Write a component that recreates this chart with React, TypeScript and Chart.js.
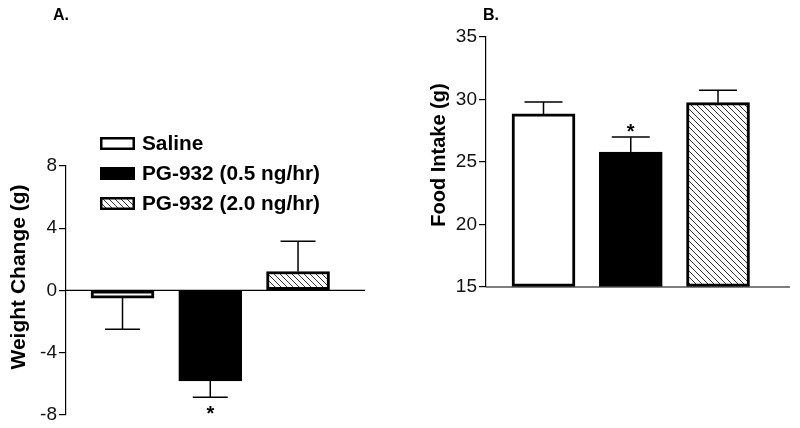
import React, { useEffect, useRef } from "react";
import { Chart, registerables } from "chart.js";

Chart.register(...registerables);

const categories = ["Saline", "PG-932 (0.5 ng/hr)", "PG-932 (2.0 ng/hr)"];
const weightChange = [-0.5, -5.84, 1.21];
const weightErr = [2.0, 1.05, 1.95];
const foodIntake = [28.85, 25.8, 29.75];
const foodErr = [0.95, 1.2, 1.0];
const weightTicks = [-8, -4, 0, 4, 8];
const foodTicks = [15, 20, 25, 30, 35];
const weightSig = [false, true, false];
const foodSig = [false, true, false];

const FONT = "'Liberation Sans', Arial, sans-serif";

function makeHatch(): CanvasPattern | string {
  const pc = document.createElement("canvas");
  pc.width = 6;
  pc.height = 6;
  const c = pc.getContext("2d");
  if (!c) return "#ccc";
  c.fillStyle = "#fff";
  c.fillRect(0, 0, 6, 6);
  c.strokeStyle = "#333";
  c.lineWidth = 1;
  c.beginPath();
  c.moveTo(-1, -1);
  c.lineTo(7, 7);
  c.moveTo(-1, 5);
  c.lineTo(1, 7);
  c.moveTo(5, -1);
  c.lineTo(7, 1);
  c.stroke();
  const p = c.createPattern(pc, "repeat");
  return p || "#ccc";
}

function errorPlugin(values: number[], errs: number[], sig: boolean[], capW: number, starGap: number) {
  return {
    id: "errbars",
    afterDatasetsDraw(chart: any) {
      const { ctx, scales } = chart;
      const x = scales.x;
      const y = scales.y;
      ctx.save();
      ctx.strokeStyle = "#000";
      ctx.lineWidth = 1.5;
      values.forEach((v, i) => {
        const px = x.getPixelForValue(i + 1);
        const dir = v < 0 ? -1 : 1;
        const yA = y.getPixelForValue(v);
        const yB = y.getPixelForValue(v + dir * errs[i]);
        ctx.beginPath();
        ctx.moveTo(px, yA);
        ctx.lineTo(px, yB);
        ctx.moveTo(px - capW / 2, yB);
        ctx.lineTo(px + capW / 2, yB);
        ctx.stroke();
        if (sig[i]) {
          ctx.fillStyle = "#000";
          ctx.font = `bold 20px ${FONT}`;
          ctx.textAlign = "center";
          ctx.textBaseline = "alphabetic";
          const cy = yB - dir * starGap;
          ctx.fillText("*", px, cy + 11.4);
        }
      });
      ctx.restore();
    },
  };
}

export default function App() {
  const refA = useRef<HTMLCanvasElement>(null);
  const refB = useRef<HTMLCanvasElement>(null);

  useEffect(() => {
    if (!refA.current || !refB.current) return;
    const hatch = makeHatch();
    const fills = ["#fff", "#000", hatch];

    const yTickCommon = {
      color: "#111",
      font: { family: FONT, size: 19 },
      padding: 2,
    };

    const chartA = new Chart(refA.current, {
      type: "bar",
      data: {
        labels: categories,
        datasets: [
          {
            data: weightChange.map((v, i) => ({ x: i + 1, y: v })),
            backgroundColor: fills as any,
            borderColor: "#000",
            borderWidth: 3,
            borderSkipped: false,
            barThickness: 63,
            clip: 0,
          } as any,
        ],
      },
      options: {
        responsive: false,
        animation: false,
        layout: { padding: { left: 0, right: 35, top: 166, bottom: 11 } },
        plugins: { legend: { display: false }, tooltip: { enabled: false } },
        scales: {
          x: { type: "linear", min: 0.356, max: 3.763, display: false, offset: false, grid: { offset: false } },
          y: {
            min: -8,
            max: 8,
            afterFit: (s: any) => {
              s.width = 66;
            },
            afterBuildTicks: (s: any) => {
              s.ticks = weightTicks.map((v) => ({ value: v }));
            },
            border: { color: "#000", width: 1.2 },
            grid: { drawOnChartArea: false, drawTicks: true, tickLength: 7, color: "#000", lineWidth: 1.2 },
            ticks: yTickCommon,
          },
        },
      },
      plugins: [
        {
          id: "zeroLine",
          beforeDatasetsDraw(chart: any) {
            const { ctx, chartArea, scales } = chart;
            const y0 = scales.y.getPixelForValue(0);
            ctx.save();
            ctx.strokeStyle = "#000";
            ctx.lineWidth = 1.2;
            ctx.beginPath();
            ctx.moveTo(chartArea.left, y0);
            ctx.lineTo(chartArea.right, y0);
            ctx.stroke();
            ctx.restore();
          },
        },
        errorPlugin(weightChange, weightErr, weightSig, 35, 11),
        {
          id: "textA",
          afterDraw(chart: any) {
            const { ctx } = chart;
            ctx.save();
            ctx.fillStyle = "#000";
            ctx.font = `bold 16px ${FONT}`;
            ctx.textAlign = "left";
            ctx.textBaseline = "alphabetic";
            ctx.fillText("A.", 53, 20);
            ctx.save();
            ctx.translate(25, 277);
            ctx.rotate(-Math.PI / 2);
            ctx.font = `bold 21px ${FONT}`;
            ctx.textAlign = "center";
            ctx.textBaseline = "alphabetic";
            ctx.fillText("Weight Change (g)", 0, 0);
            ctx.restore();
            const rows = [143.5, 173.5, 203.5];
            categories.forEach((c, i) => {
              const yc = rows[i];
              ctx.fillStyle = fills[i] as any;
              ctx.fillRect(100, yc - 6.5, 35, 13);
              ctx.strokeStyle = "#000";
              ctx.lineWidth = 2.5;
              ctx.strokeRect(101.25, yc - 5.25, 32.5, 10.5);
              ctx.fillStyle = "#000";
              ctx.font = `bold 20.8px ${FONT}`;
              ctx.textAlign = "left";
              ctx.textBaseline = "middle";
              ctx.fillText(c, 142, yc + 1);
            });
            ctx.restore();
          },
        },
      ],
    } as any);

    const chartB = new Chart(refB.current, {
      type: "bar",
      data: {
        labels: categories,
        datasets: [
          {
            data: foodIntake.map((v, i) => ({ x: i + 1, y: v })),
            backgroundColor: fills as any,
            borderColor: "#000",
            borderWidth: 3,
            borderSkipped: false,
            barThickness: 63,
            base: 15,
            clip: 0,
          } as any,
        ],
      },
      options: {
        responsive: false,
        animation: false,
        layout: { padding: { left: 0, right: 10, top: 37, bottom: 141 } },
        plugins: { legend: { display: false }, tooltip: { enabled: false } },
        scales: {
          x: { type: "linear", min: 0.341, max: 3.825, display: false, offset: false, grid: { offset: false } },
          y: {
            min: 15,
            max: 35,
            afterFit: (s: any) => {
              s.width = 86;
            },
            afterBuildTicks: (s: any) => {
              s.ticks = foodTicks.map((v) => ({ value: v }));
            },
            border: { color: "#000", width: 1.2 },
            grid: { drawOnChartArea: false, drawTicks: true, tickLength: 7, color: "#000", lineWidth: 1.2 },
            ticks: yTickCommon,
          },
        },
      },
      plugins: [
        {
          id: "baseLine",
          afterDatasetsDraw(chart: any) {
            const { ctx, chartArea } = chart;
            ctx.save();
            ctx.strokeStyle = "#000";
            ctx.lineWidth = 1.2;
            ctx.beginPath();
            ctx.moveTo(chartArea.left, chartArea.bottom);
            ctx.lineTo(chartArea.right, chartArea.bottom);
            ctx.stroke();
            ctx.restore();
          },
        },
        errorPlugin(foodIntake, foodErr, foodSig, 38, 10),
        {
          id: "textB",
          afterDraw(chart: any) {
            const { ctx } = chart;
            ctx.save();
            ctx.fillStyle = "#000";
            ctx.font = `bold 16px ${FONT}`;
            ctx.textAlign = "left";
            ctx.textBaseline = "alphabetic";
            ctx.fillText("B.", 83, 20);
            ctx.translate(45, 155);
            ctx.rotate(-Math.PI / 2);
            ctx.font = `bold 20px ${FONT}`;
            ctx.textAlign = "center";
            ctx.fillText("Food Intake (g)", 0, 0);
            ctx.restore();
          },
        },
      ],
    } as any);

    return () => {
      chartA.destroy();
      chartB.destroy();
    };
  }, []);

  return (
    <div style={{ position: "absolute", left: 0, top: 0, width: 800, height: 428, background: "#fff" }}>
      <canvas ref={refA} width={400} height={428} style={{ position: "absolute", left: 0, top: 0, width: 400, height: 428 }} />
      <canvas ref={refB} width={400} height={428} style={{ position: "absolute", left: 400, top: 0, width: 400, height: 428 }} />
    </div>
  );
}
